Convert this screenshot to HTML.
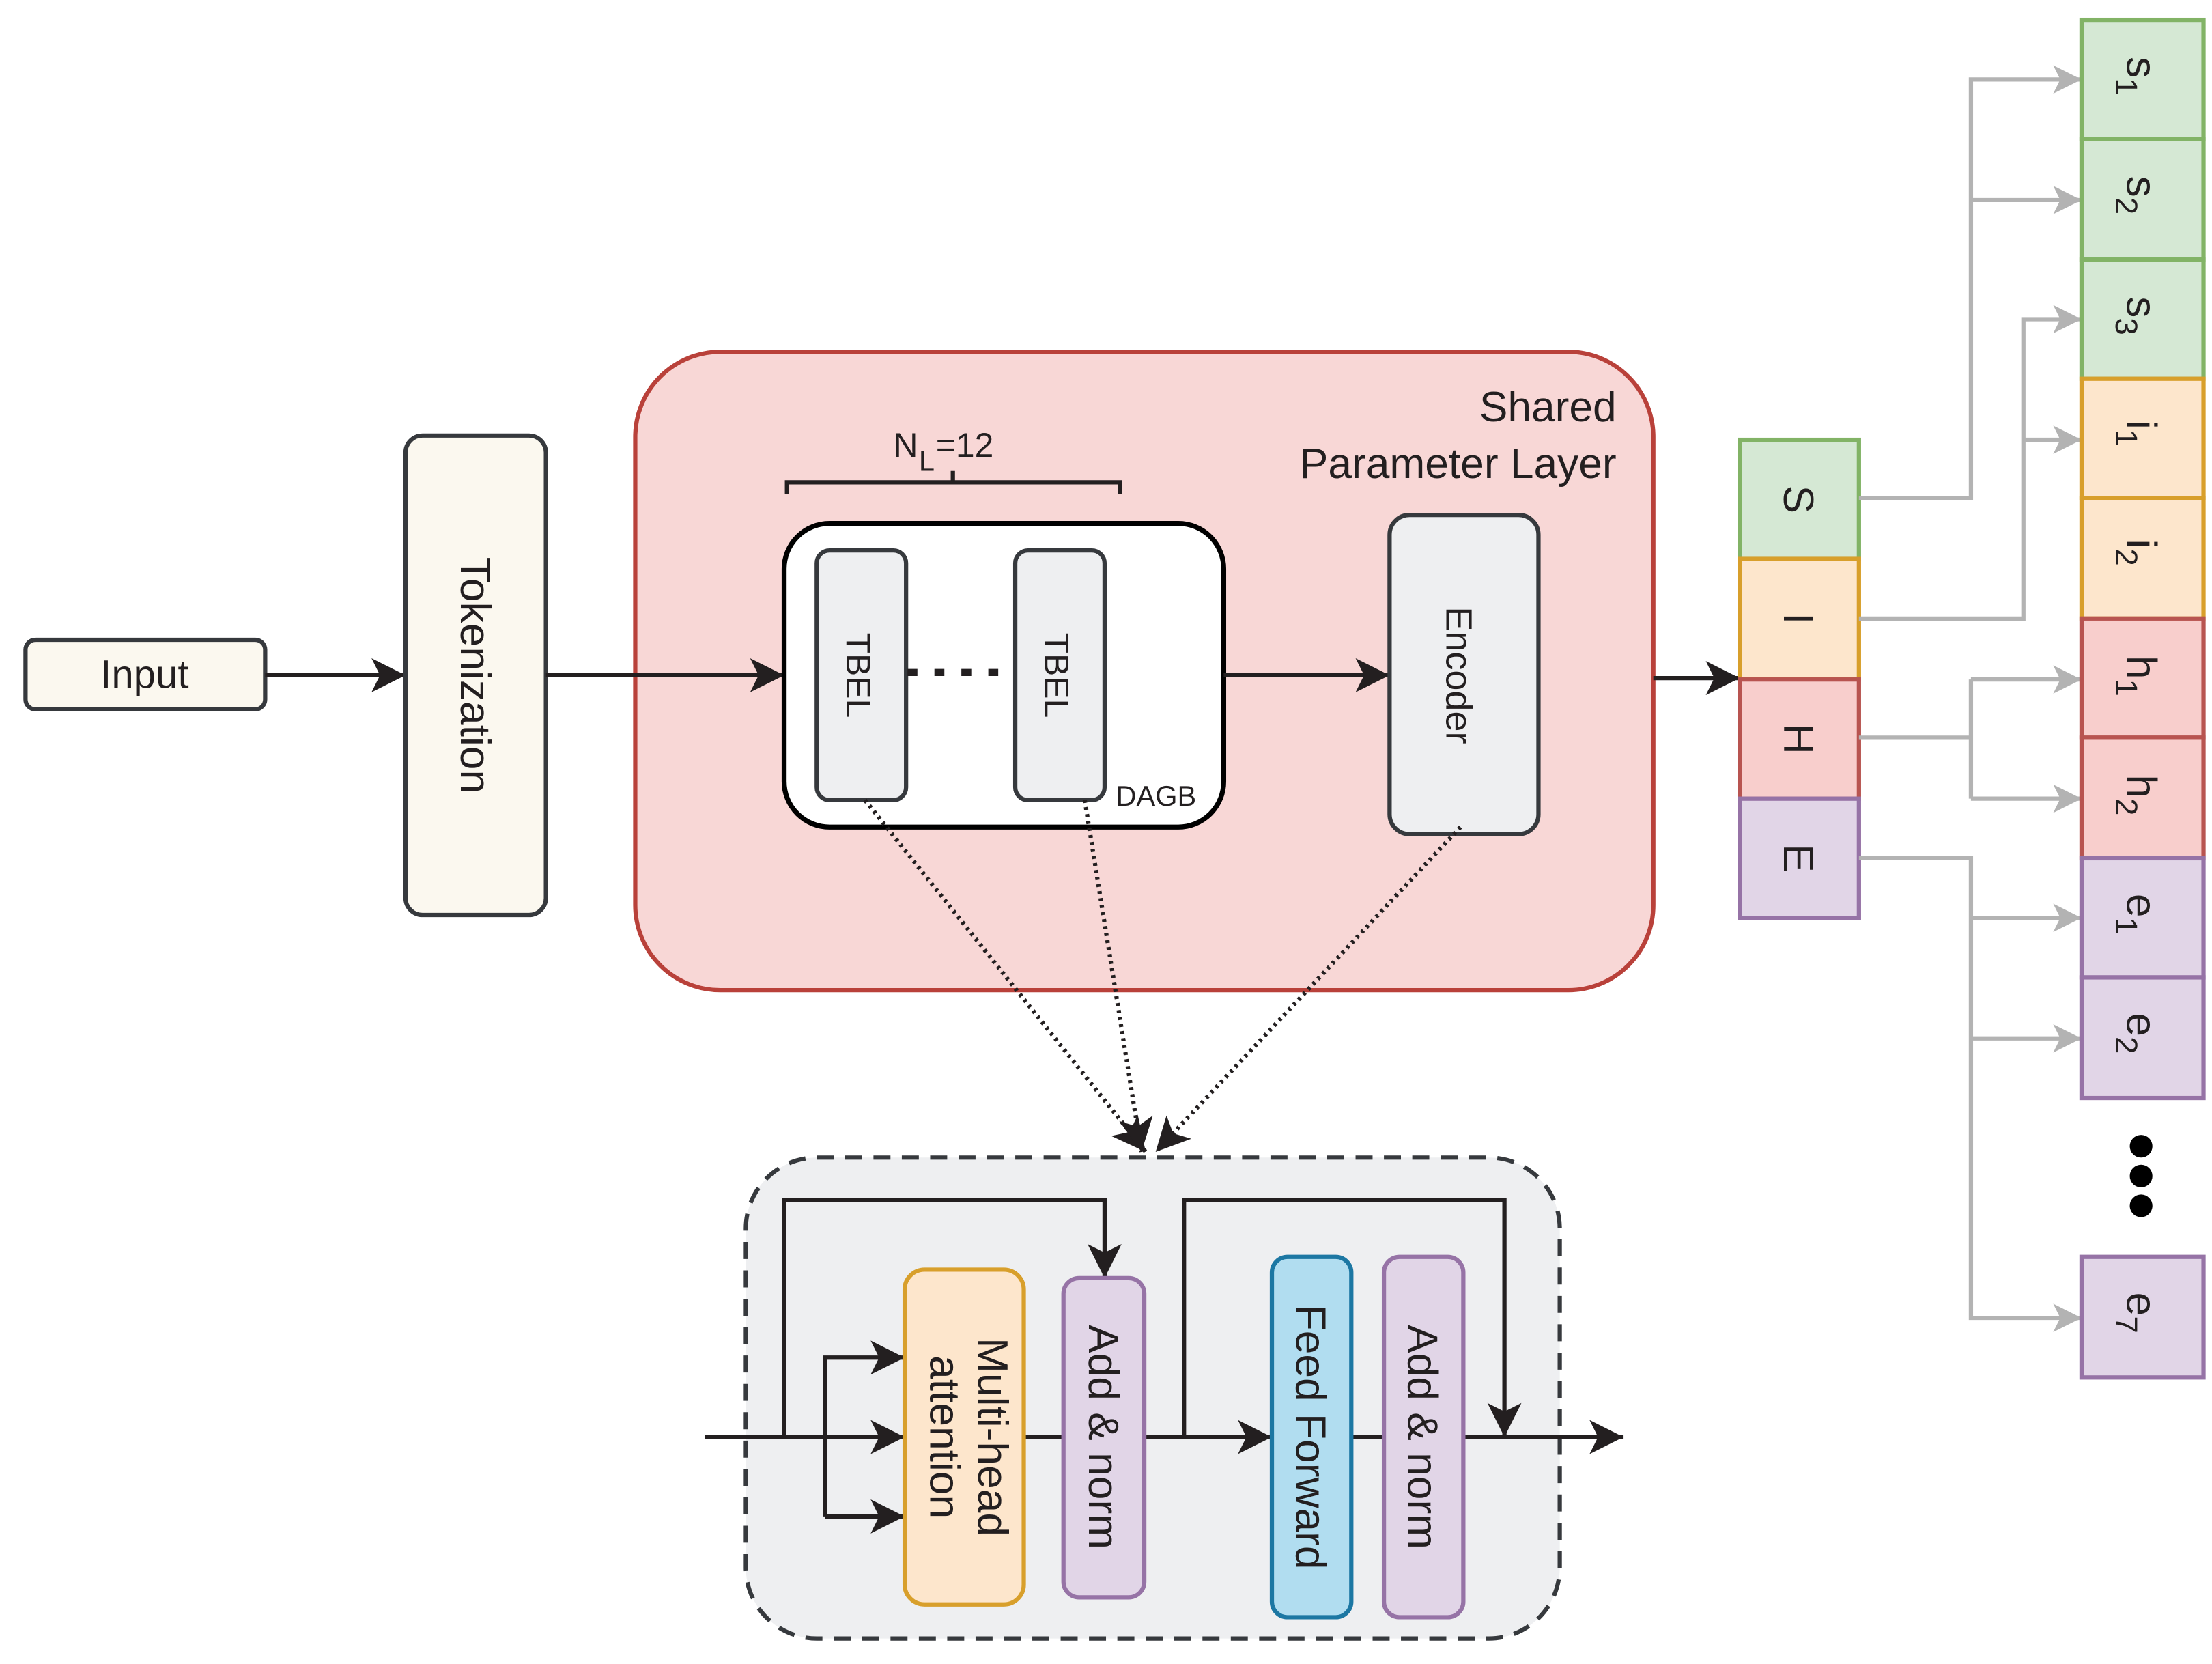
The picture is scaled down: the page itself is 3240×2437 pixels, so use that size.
<!DOCTYPE html>
<html><head><meta charset="utf-8"><style>html,body{margin:0;padding:0;background:#fff}svg{display:block}text{font-family:"Liberation Sans",sans-serif;fill:#231f20}</style></head><body>
<svg width="3240" height="2437" viewBox="0 0 1560 1173" preserveAspectRatio="none" xmlns="http://www.w3.org/2000/svg">
<defs>
<marker id="a" markerWidth="10" markerHeight="10" refX="9" refY="5" orient="auto" markerUnits="userSpaceOnUse"><path d="M0,0 L10,5 L0,10 L2.5,5z" fill="#231f20" transform="scale(1)"/></marker>
<marker id="A" viewBox="0 0 10 10" markerWidth="28" markerHeight="24" refX="10" refY="5" orient="auto" markerUnits="userSpaceOnUse"><path d="M0,0 L10,5 L0,10 L2.5,5z" fill="#231f20"/></marker>
<marker id="G" viewBox="0 0 10 10" markerWidth="26" markerHeight="20" refX="10" refY="5" orient="auto" markerUnits="userSpaceOnUse"><path d="M0,0 L10,5 L0,10 L2.5,5z" fill="#b3b3b3"/></marker>
</defs>
<!-- Input -->
<rect x="18" y="451" width="169" height="49" rx="7" fill="#fbf8ef" stroke="#36393d" stroke-width="3"/>
<text x="102" y="485" font-size="28" text-anchor="middle">Input</text>
<line x1="187" y1="476" x2="286" y2="476" stroke="#231f20" stroke-width="3" marker-end="url(#A)"/>
<rect x="286" y="307" width="99" height="338" rx="12" fill="#fbf8ef" stroke="#36393d" stroke-width="3"/>
<text transform="translate(325,476) rotate(90)" font-size="30" text-anchor="middle">Tokenization</text>
<!-- Shared layer -->
<rect x="448" y="248" width="718" height="450" rx="60" fill="#f8d7d6" stroke="#b9413a" stroke-width="3"/>
<text x="1140" y="297" font-size="30" text-anchor="end">Shared</text>
<text x="1140" y="337" font-size="30" text-anchor="end">Parameter Layer</text>
<text x="630" y="322" font-size="24">N</text><text x="648" y="332" font-size="20">L</text><text x="660" y="322" font-size="24">=12</text>
<path d="M555,348 V340 H790 V348 M672,340 V332" fill="none" stroke="#231f20" stroke-width="3"/>
<line x1="385" y1="476" x2="553" y2="476" stroke="#231f20" stroke-width="3" marker-end="url(#A)"/>
<rect x="553" y="369" width="310" height="214" rx="32" fill="#fff" stroke="#000" stroke-width="3.5"/>
<rect x="576" y="388" width="63" height="176" rx="9" fill="#eeeff1" stroke="#36393d" stroke-width="3"/>
<rect x="716" y="388" width="63" height="176" rx="9" fill="#eeeff1" stroke="#36393d" stroke-width="3"/>
<text transform="translate(597,476) rotate(90)" font-size="24" text-anchor="middle">TBEL</text>
<text transform="translate(737,476) rotate(90)" font-size="24" text-anchor="middle">TBEL</text>
<line x1="640" y1="474" x2="715" y2="474" stroke="#231f20" stroke-width="5" stroke-dasharray="7,12"/>
<text x="787" y="568" font-size="20">DAGB</text>
<line x1="863" y1="476" x2="980" y2="476" stroke="#231f20" stroke-width="3" marker-end="url(#A)"/>
<rect x="980" y="363" width="105" height="225" rx="14" fill="#eeeff1" stroke="#36393d" stroke-width="3"/>
<text transform="translate(1020,476) rotate(90)" font-size="26" text-anchor="middle">Encoder</text>
<line x1="1166" y1="478" x2="1227" y2="478" stroke="#231f20" stroke-width="3" marker-end="url(#A)"/>
<!-- dotted -->
<g stroke="#231f20" stroke-width="3" stroke-dasharray="2,3" fill="none">
<line x1="610" y1="564" x2="808" y2="812" marker-end="url(#A)"/>
<line x1="765" y1="564" x2="805" y2="812" marker-end="url(#A)"/>
<line x1="1030" y1="583" x2="815" y2="812" marker-end="url(#A)"/>
</g>
<!-- bottom block -->
<rect x="526" y="816" width="574" height="339" rx="50" fill="#eeeff1" stroke="#36393d" stroke-width="3" stroke-dasharray="12,8"/>
<g stroke="#231f20" stroke-width="3" fill="none">
<line x1="497" y1="1013" x2="1145" y2="1013" marker-end="url(#A)"/>
<path d="M553,1013 V846 H779 V901" marker-end="url(#A)"/>
<path d="M835,1013 V846 H1061 V1013" marker-end="url(#A)"/>
<path d="M582,1069 V957 H638" marker-end="url(#A)"/>
<line x1="582" y1="1069" x2="638" y2="1069" marker-end="url(#A)"/>
<line x1="600" y1="1013" x2="638" y2="1013" marker-end="url(#A)"/>
<line x1="853" y1="1013" x2="897" y2="1013" marker-end="url(#A)"/>
</g>
<rect x="638" y="895" width="84" height="236" rx="14" fill="#fde6cc" stroke="#d89f2b" stroke-width="3"/>
<text transform="translate(690,1013) rotate(90)" font-size="30" text-anchor="middle">Multi-head</text>
<text transform="translate(656,1013) rotate(90)" font-size="30" text-anchor="middle">attention</text>
<rect x="750" y="901" width="57" height="225" rx="11" fill="#e1d5e7" stroke="#9673a6" stroke-width="3"/>
<text transform="translate(768,1013) rotate(90)" font-size="30" text-anchor="middle">Add &amp; norm</text>
<rect x="897" y="886" width="56" height="254" rx="11" fill="#b1ddf0" stroke="#1c77a3" stroke-width="3"/>
<text transform="translate(914,1013) rotate(90)" font-size="30" text-anchor="middle">Feed Forward</text>
<rect x="976" y="886" width="56" height="254" rx="11" fill="#e1d5e7" stroke="#9673a6" stroke-width="3"/>
<text transform="translate(993,1013) rotate(90)" font-size="30" text-anchor="middle">Add &amp; norm</text>
<!-- SIHE -->
<g stroke-width="3">
<rect x="1227" y="310" width="84" height="84" fill="#d5e8d4" stroke="#82b366"/>
<rect x="1227" y="394" width="84" height="85" fill="#fde6cc" stroke="#d89f2b"/>
<rect x="1227" y="479" width="84" height="84" fill="#f8cecc" stroke="#b85450"/>
<rect x="1227" y="563" width="84" height="84" fill="#e1d5e7" stroke="#9673a6"/>
</g>
<g font-size="30" text-anchor="middle">
<text transform="translate(1258,352) rotate(90)">S</text>
<text transform="translate(1258,436) rotate(90)">I</text>
<text transform="translate(1258,521) rotate(90)">H</text>
<text transform="translate(1258,605) rotate(90)">E</text>
</g>
<!-- gray connectors -->
<g stroke="#b3b3b3" stroke-width="3" fill="none">
<path d="M1311,351 H1390 V56 H1468" marker-end="url(#G)"/>
<line x1="1390" y1="141" x2="1468" y2="141" marker-end="url(#G)"/>
<path d="M1311,436 H1427 V225 H1468" marker-end="url(#G)"/>
<line x1="1427" y1="310" x2="1468" y2="310" marker-end="url(#G)"/>
<path d="M1311,520 H1390 M1390,479 V563" />
<line x1="1390" y1="479" x2="1468" y2="479" marker-end="url(#G)"/>
<line x1="1390" y1="563" x2="1468" y2="563" marker-end="url(#G)"/>
<path d="M1311,605 H1390 V929 H1468" marker-end="url(#G)"/>
<line x1="1390" y1="647" x2="1468" y2="647" marker-end="url(#G)"/>
<line x1="1390" y1="732" x2="1468" y2="732" marker-end="url(#G)"/>
</g>
<!-- right column -->
<g stroke-width="3">
<rect x="1468" y="14" width="86" height="84" fill="#d5e8d4" stroke="#82b366"/>
<rect x="1468" y="98" width="86" height="85" fill="#d5e8d4" stroke="#82b366"/>
<rect x="1468" y="183" width="86" height="84" fill="#d5e8d4" stroke="#82b366"/>
<rect x="1468" y="267" width="86" height="84" fill="#fde6cc" stroke="#d89f2b"/>
<rect x="1468" y="351" width="86" height="85" fill="#fde6cc" stroke="#d89f2b"/>
<rect x="1468" y="436" width="86" height="84" fill="#f8cecc" stroke="#b85450"/>
<rect x="1468" y="520" width="86" height="85" fill="#f8cecc" stroke="#b85450"/>
<rect x="1468" y="605" width="86" height="84" fill="#e1d5e7" stroke="#9673a6"/>
<rect x="1468" y="689" width="86" height="85" fill="#e1d5e7" stroke="#9673a6"/>
<rect x="1468" y="886" width="86" height="85" fill="#e1d5e7" stroke="#9673a6"/>
</g>
<g font-size="30">
<g transform="translate(1500,40) rotate(90)"><text>s<tspan font-size="22" dy="8">1</tspan></text></g>
<g transform="translate(1500,124) rotate(90)"><text>s<tspan font-size="22" dy="8">2</tspan></text></g>
<g transform="translate(1500,209) rotate(90)"><text>s<tspan font-size="22" dy="8">3</tspan></text></g>
<g transform="translate(1500,296) rotate(90)"><text>i<tspan font-size="22" dy="8">1</tspan></text></g>
<g transform="translate(1500,380) rotate(90)"><text>i<tspan font-size="22" dy="8">2</tspan></text></g>
<g transform="translate(1500,462) rotate(90)"><text>h<tspan font-size="22" dy="8">1</tspan></text></g>
<g transform="translate(1500,546) rotate(90)"><text>h<tspan font-size="22" dy="8">2</tspan></text></g>
<g transform="translate(1500,630) rotate(90)"><text>e<tspan font-size="22" dy="8">1</tspan></text></g>
<g transform="translate(1500,714) rotate(90)"><text>e<tspan font-size="22" dy="8">2</tspan></text></g>
<g transform="translate(1500,911) rotate(90)"><text>e<tspan font-size="22" dy="8">7</tspan></text></g>
</g>
<circle cx="1510" cy="808" r="8" fill="#000"/><circle cx="1510" cy="829" r="8" fill="#000"/><circle cx="1510" cy="850" r="8" fill="#000"/>
</svg>
</body></html>
